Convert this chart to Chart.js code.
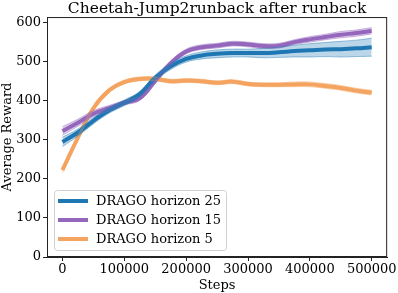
<!DOCTYPE html>
<html>
<head>
<meta charset="utf-8">
<script src="https://cdn.jsdelivr.net/npm/chart.js@4"></script>
<style>
  html, body { margin: 0; padding: 0; background: #fff; }
  #wrap { width: 398px; height: 293px; }
</style>
</head>
<body>
<div id="wrap"><canvas id="chart" width="398" height="293"></canvas></div>
<script>
// steps on the x axis
const steps = [0, 25000, 50000, 75000, 100000, 125000, 150000, 175000, 200000, 225000, 250000,
  275000, 300000, 325000, 350000, 375000, 400000, 425000, 450000, 475000, 500000];

// DRAGO horizon 25
const h25Mean = [294, 318, 348, 374, 394, 416, 458, 487, 506, 515, 519, 521, 521, 521, 523, 526, 528, 530, 531, 533, 536];
const h25Err = [12, 9, 8, 7, 7, 7, 7, 8, 8, 9, 10, 10, 10, 12, 13, 15, 17, 18, 20, 21, 23];

// DRAGO horizon 15
const h15Mean = [322, 343, 366, 380, 394, 406, 450, 495, 525, 536, 540, 545, 543, 539, 540, 549, 556, 562, 568, 572, 578];
const h15Err = [11, 9, 8, 7, 6, 6, 6, 6, 6, 6, 6, 6, 6, 6, 6, 6, 7, 7, 8, 8, 8];

// DRAGO horizon 5
const h5Mean = [222, 305, 380, 425, 447, 455, 455, 449, 451, 449, 445, 448, 442, 440, 440, 441, 441, 437, 432, 425, 420];
const h5Err = [6, 5, 5, 5, 5, 5, 5, 5, 5, 5, 5, 5, 5, 5, 5, 6, 6, 6, 6, 6, 6];

const xTicks = [0, 100000, 200000, 300000, 400000, 500000];
const yTicks = [0, 100, 200, 300, 400, 500, 600];

const series = [
  { label: "DRAGO horizon 25", mean: h25Mean, err: h25Err, color: "31,119,180" },
  { label: "DRAGO horizon 15", mean: h15Mean, err: h15Err, color: "148,103,189" },
  { label: "DRAGO horizon 5", mean: h5Mean, err: h5Err, color: "244,164,96" },
];

function pts(arr) {
  return steps.map((s, i) => ({ x: s, y: arr[i] }));
}

const datasets = [];
// bands first, so lines sit on top
series.forEach(s => {
  const hi = s.mean.map((m, i) => m + s.err[i]);
  const lo = s.mean.map((m, i) => m - s.err[i]);
  datasets.push({
    label: s.label + " hi", data: pts(hi), borderColor: "rgba(" + s.color + ",0.45)",
    borderWidth: 1, pointRadius: 0, tension: 0.4, fill: "+1",
    backgroundColor: "rgba(" + s.color + ",0.3)",
  });
  datasets.push({
    label: s.label + " lo", data: pts(lo), borderColor: "rgba(" + s.color + ",0.45)",
    borderWidth: 1, pointRadius: 0, tension: 0.4, fill: false,
  });
});
series.forEach(s => {
  datasets.push({
    label: s.label, data: pts(s.mean), borderColor: "rgb(" + s.color + ")",
    borderWidth: 4, pointRadius: 0, tension: 0.4, fill: false, borderCapStyle: "butt",
  });
});

const serif = "'DejaVu Serif', serif";

// matplotlib style box + legend inside the axes
const boxLegend = {
  id: "boxLegend",
  afterDraw(chart) {
    const ctx = chart.ctx;
    const a = chart.chartArea;
    ctx.save();
    ctx.strokeStyle = "#222";
    ctx.lineWidth = 1;
    ctx.strokeRect(a.left + 0.5, a.top + 0.5, a.right - a.left - 1, a.bottom - a.top - 1);

    const x0 = a.left + 7, y0 = a.bottom - 67, w = 172, h = 60;
    ctx.fillStyle = "rgba(255,255,255,0.8)";
    ctx.strokeStyle = "#d0d0d0";
    ctx.beginPath();
    ctx.roundRect(x0 + 0.5, y0 + 0.5, w, h, 3);
    ctx.fill();
    ctx.stroke();
    ctx.font = "13px " + serif;
    ctx.textBaseline = "middle";
    series.forEach((s, i) => {
      const y = y0 + 11 + i * 19;
      ctx.strokeStyle = "rgb(" + s.color + ")";
      ctx.lineWidth = 4;
      ctx.beginPath();
      ctx.moveTo(x0 + 4, y);
      ctx.lineTo(x0 + 34, y);
      ctx.stroke();
      ctx.fillStyle = "#000";
      ctx.fillText(s.label, x0 + 42, y + 1);
    });
    ctx.restore();
  },
};

new Chart(document.getElementById("chart"), {
  type: "line",
  data: { datasets },
  plugins: [boxLegend],
  options: {
    responsive: false,
    animation: false,
    layout: { padding: { left: 0, right: 9, top: 0, bottom: 0 } },
    plugins: {
      legend: { display: false },
      tooltip: { enabled: false },
      title: {
        display: true, fullSize: false, text: "Cheetah-Jump2runback after runback", color: "#000",
        font: { family: serif, size: 15.5, weight: "normal", lineHeight: 1.1 }, padding: { top: 0, bottom: 0 },
      },
    },
    scales: {
      x: {
        type: "linear", min: -25000, max: 525000,
        afterBuildTicks: ax => { ax.ticks = xTicks.map(v => ({ value: v })); },
        afterFit: ax => { ax.height = 36; },
        ticks: { color: "#000", font: { family: serif, size: 13, lineHeight: 1.1 }, maxRotation: 0, padding: 1, callback: v => String(v) },
        grid: { drawOnChartArea: false, tickLength: 4, color: "#222" },
        border: { color: "#222" },
        title: { display: true, text: "Steps", color: "#000", font: { family: serif, size: 13, lineHeight: 1.1 }, padding: { top: 0, bottom: 0 } },
      },
      y: {
        min: 0, max: 613,
        afterBuildTicks: ax => { ax.ticks = yTicks.map(v => ({ value: v })); },
        afterFit: ax => { ax.width = 47; },
        ticks: { color: "#000", font: { family: serif, size: 13 }, padding: 2 },
        grid: { drawOnChartArea: false, tickLength: 4, color: "#222" },
        border: { color: "#222" },
        title: { display: true, text: "Average Reward", color: "#000", font: { family: serif, size: 13, lineHeight: 1.1 }, padding: { top: 0, bottom: 0 } },
      },
    },
  },
});
</script>
</body>
</html>
